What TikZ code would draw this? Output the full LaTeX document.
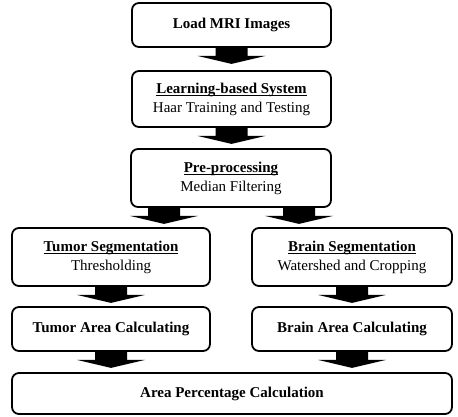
\documentclass[tikz,border=0pt]{standalone}
\usepackage{fontspec}
\setmainfont{Liberation Serif}
\usetikzlibrary{calc}
\newcommand\barrow[1]{\fill ($#1$) ++(-16,0) -- ++(32,0) -- ++(0,8) -- ++(18,0) -- ++(-34,8) -- ++(-34,-8) -- ++(18,0) -- cycle;}
\newcommand\myul[1]{\setbox0\hbox{#1}\rlap{\rule[-2.6pt]{\wd0}{1.1pt}}\box0}
\begin{document}
\begin{tikzpicture}[x=1pt,y=-1pt,
  box/.style={draw, line width=1.8pt, rounded corners=7pt, align=center, inner sep=0pt,
    font=\fontsize{15}{19}\selectfont}]
\useasboundingbox (0,0) rectangle (458,416);
\node[box, minimum width=199, minimum height=44] (b1) at (231.5,25) {\textbf{Load MRI Images}};
\node[box, minimum width=199, minimum height=56] (b2) at (231.5,99) {\myul{\textbf{Learning-based System}}\\Haar Training and Testing};
\node[box, minimum width=200, minimum height=58] (b3) at (231,178) {\myul{\textbf{Pre-processing}}\\Median Filtering};
\node[box, minimum width=198, minimum height=58] (ts) at (111,257) {\myul{\textbf{Tumor Segmentation}}\\Thresholding};
\node[box, minimum width=200, minimum height=58] (bs) at (352,257) {\myul{\textbf{Brain Segmentation}}\\Watershed and Cropping};
\node[box, minimum width=198, minimum height=44] (ta) at (111,329) {\textbf{Tumor Area Calculating}};
\node[box, minimum width=200, minimum height=44] (ba) at (352,329) {\textbf{Brain Area Calculating}};
\node[box, minimum width=440, minimum height=41] (ap) at (232,393.5) {\textbf{Area Percentage Calculation}};
\barrow{(b1.south)}
\barrow{(b2.south)}
\barrow{(b3.south)+(-67,0)}
\barrow{(b3.south)+(68,0)}
\barrow{(ts.south)}
\barrow{(bs.south)}
\barrow{(ta.south)}
\barrow{(ba.south)}
\end{tikzpicture}
\end{document}
